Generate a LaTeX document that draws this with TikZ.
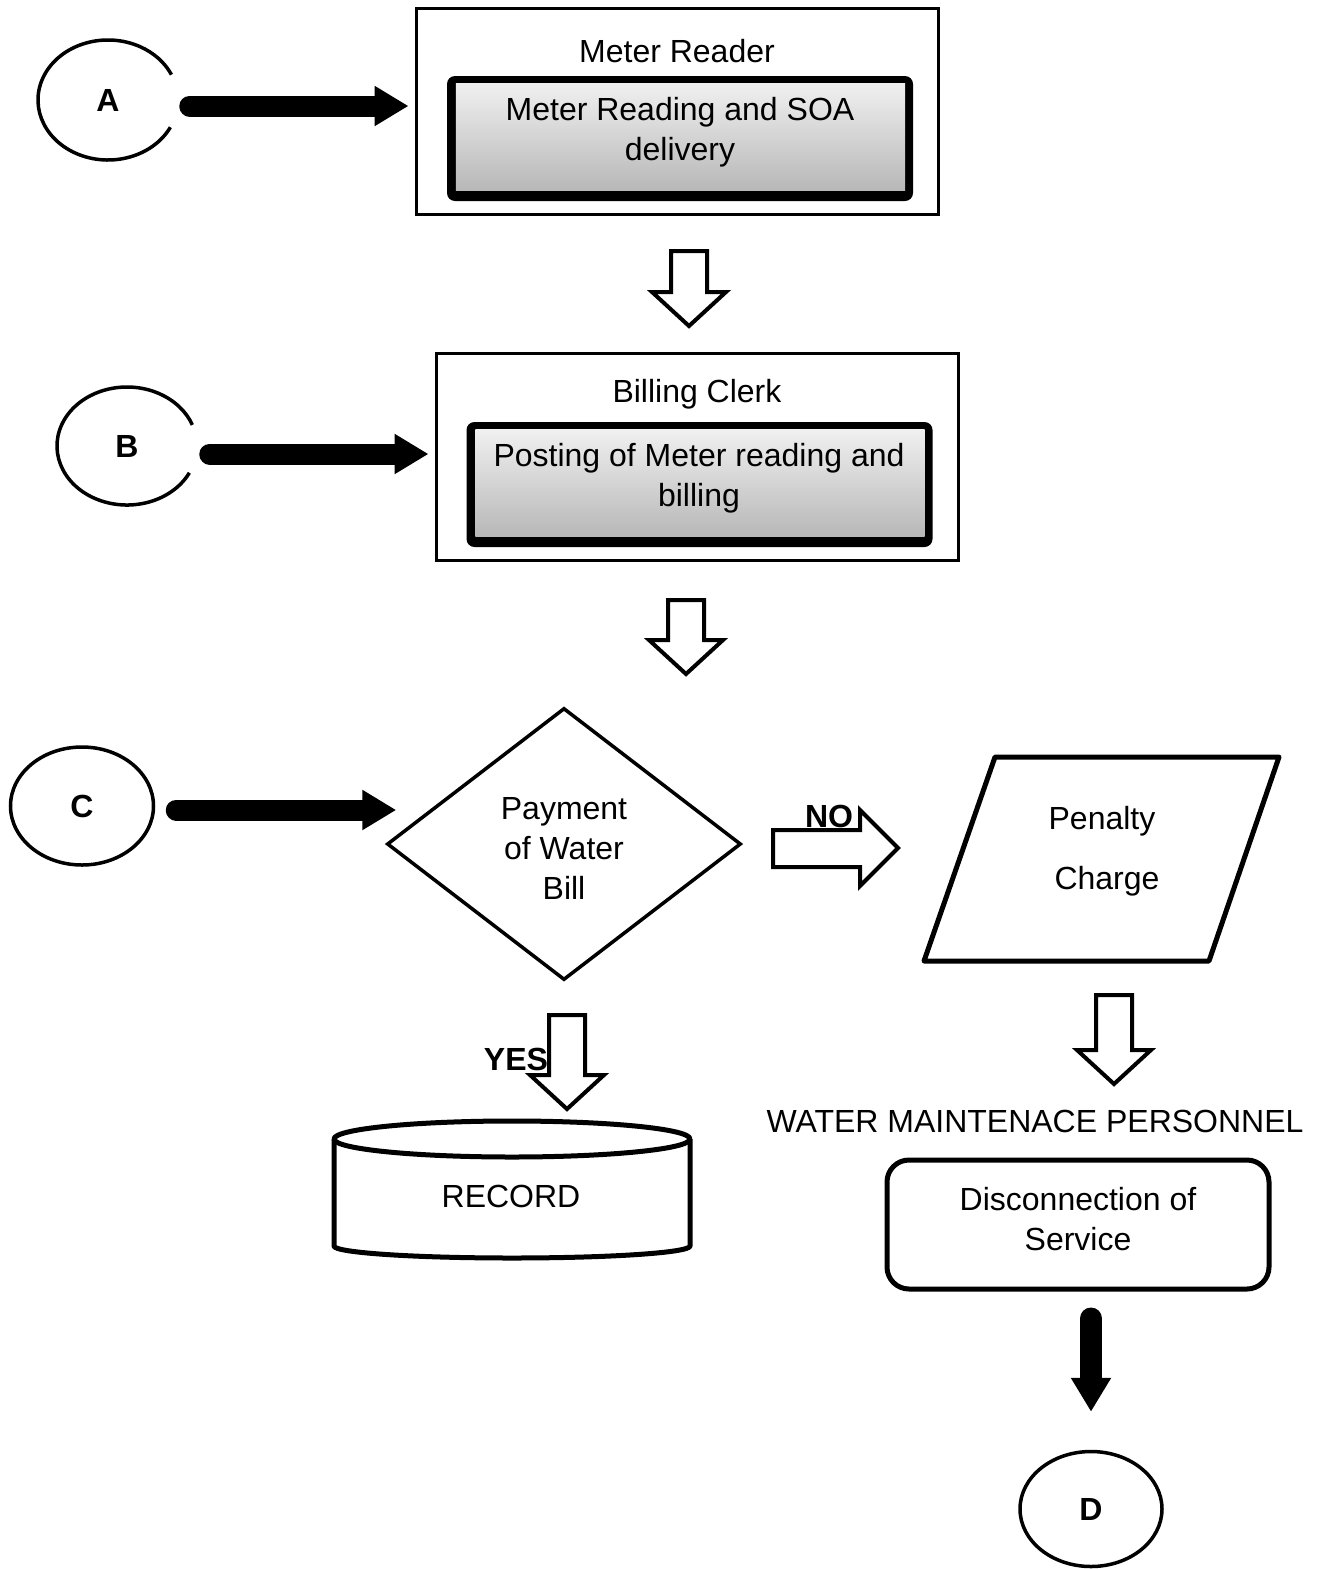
\documentclass[tikz,border=0pt]{standalone}
\usepackage{fontspec}
\setmainfont{Liberation Sans}
\usetikzlibrary{shapes.geometric,arrows.meta,calc}
\begin{document}
\begin{tikzpicture}[x=1pt,y=-1pt,
  txt/.style={font=\fontsize{32}{40}\selectfont, align=center, inner sep=0pt, anchor=base},
  lbl/.style={font=\bfseries\fontsize{32}{40}\selectfont, inner sep=0pt, anchor=base},
  outerbox/.style={draw, line width=3pt, minimum width=522pt, minimum height=206pt, inner sep=0pt},
  framebox/.style={fill=black, rounded corners=8pt, minimum width=466pt, minimum height=125pt, inner sep=0pt},
  grayfill/.style={top color=black!6, bottom color=black!28},
  hollow/.style={draw, line width=4pt, fill=white, line join=miter},
  bigarrow/.style={line width=21pt, line cap=round, -{Triangle[length=34pt,width=38pt]}},
  circ/.style={ellipse, line width=3.5pt, minimum width=142pt, minimum height=119pt, inner sep=0pt, font=\bfseries\fontsize{32}{40}\selectfont},
  thickshape/.style={draw, line width=5pt, line join=round},
  pics/downarr/.style={code={\draw[hollow] (-18,0) -- (18,0) -- (18,#1) -- (37,#1) -- (0,#1+34) -- (-37,#1) -- (-18,#1) -- cycle;}}
]
\useasboundingbox (0,0) rectangle (1319,1569);

% --- Meter reader block
\node[outerbox] (box1) at (677,111) {};
\node[txt] (t1) at (677,62) {Meter Reader};
\node[framebox] (rd) at (680,138.5) {};
\shade[grayfill] ([shift={(9,8)}]rd.north west) rectangle ([shift={(-8,-11)}]rd.south east);
\node[txt] (t2) at (680,160) {Meter Reading and SOA\\delivery};

% --- Billing clerk block
\node[outerbox, minimum height=207pt] (box2) at (697,456.5) {};
\node[txt] (t3) at (697,402) {Billing Clerk};
\node[framebox] (post) at (699.5,484.5) {};
\shade[grayfill] ([shift={(9,8)}]post.north west) rectangle ([shift={(-8,-11)}]post.south east);
\node[txt] (t4) at (699,506) {Posting of Meter reading and\\billing};

% --- connectors A, B, C
\node[circ] (A) at (108,100) {A};
\draw[line width=3.5pt] ($(A.center)+(27:70 and 60)$) arc[start angle=27, end angle=335, x radius=70, y radius=60];
\node[circ] (B) at (127,446) {B};
\draw[line width=3.5pt] ($(B.center)+(27:70 and 59)$) arc[start angle=27, end angle=339, x radius=70, y radius=59];
\node[circ, draw, minimum width=143pt, minimum height=118pt] (C) at (82,806) {C};

\draw[bigarrow] ($(A.east)+(9,6)$) -- ($(box1.west)+(-6,-5)$);
\draw[bigarrow] ($(B.east)+(10,8)$) -- ($(box2.west)+(-6,-2.5)$);

% --- hollow down arrows
\pic at (689,251) {downarr=41};
\pic at (686,600) {downarr=40};

% --- decision
\node[diamond, draw, line width=3.5pt, minimum width=354pt, minimum height=272pt, inner sep=0pt] (pay) at (564,844) {};
\node[txt] (t5) at (564,899) {Payment\\of Water\\Bill};
\draw[bigarrow] ($(C.east)+(21,4)$) -- ($(pay.west)+(11,-34)$);

% --- NO branch
\draw[hollow] (773,830) -- (860,830) -- (860,810) -- (898,848) -- (860,886) -- (860,867) -- (773,867) -- cycle;
\node[lbl] (no) at (829,827) {NO};
\draw[thickshape] (995,757) -- (1279,757) -- (1209,961) -- (924,961) -- cycle;
\node[txt] (t6) at (1102,829) {Penalty};
\node[txt] (t7) at (1107,889) {Charge};
\pic at (1114,995) {downarr=55};
\node[txt] (t8) at (1035,1132) {WATER MAINTENACE PERSONNEL};
\node[draw, line width=5pt, rounded corners=22pt, minimum width=382pt, minimum height=129pt, inner sep=0pt] (dis) at (1078,1224.5) {};
\node[txt] (t9) at (1078,1250) {Disconnection of\\Service};
\node[circ, draw, minimum height=115pt] (D) at (1091,1509) {D};
\draw[line width=22pt, line cap=round, -{Triangle[length=34pt,width=38pt]}] ($(dis.south)+(13,27)$) -- ($(D.north)+(0,-38)$);

% --- YES branch
\pic at (567,1015) {downarr=60};
\node[lbl] (yes) at (516,1070) {YES};
\draw[thickshape] (334,1139) -- (334,1246) arc[start angle=180, end angle=0, x radius=178, y radius=12] -- (690,1139);
\draw[thickshape, fill=white] (512,1139) ellipse[x radius=178, y radius=18];
\node[txt] (t10) at (511,1207) {RECORD};
\end{tikzpicture}
\end{document}
